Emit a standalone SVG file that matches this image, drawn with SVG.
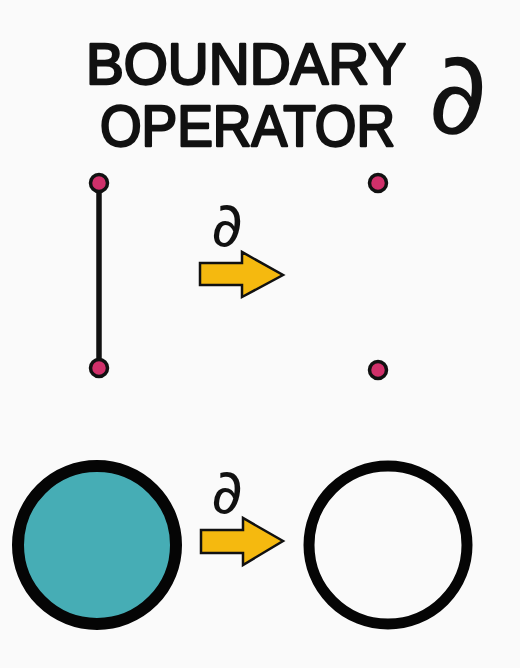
<svg xmlns="http://www.w3.org/2000/svg" width="520" height="668" viewBox="0 0 520 668">
<style>
.title{font-family:"Liberation Sans","DejaVu Sans",sans-serif;font-size:58px;fill:#111;stroke:#111;stroke-width:2.5;stroke-linejoin:round}
.del{font-family:"DejaVu Sans","Liberation Serif",serif;fill:#111}
.dot{fill:#d0306a;stroke:#111;stroke-width:3.5}
.arrow{fill:#f5b90f;stroke:#111;stroke-width:2.5;stroke-linejoin:miter}
</style>
<rect width="520" height="668" fill="#fafafa"/>
<g id="title">
<text class="title" x="86" y="84" textLength="320" lengthAdjust="spacingAndGlyphs">BOUNDARY</text>
<text class="title" x="100" y="146" textLength="295" lengthAdjust="spacingAndGlyphs">OPERATOR</text>
<text class="del" x="428" y="133" font-size="115">∂</text>
</g>
<g id="segment">
<line x1="99" y1="183" x2="99" y2="368" stroke="#111" stroke-width="5.5"/>
<circle class="dot" cx="99" cy="183" r="8.5"/>
<circle class="dot" cx="99" cy="368" r="8.5"/>
</g>
<g id="endpoints">
<circle class="dot" cx="378" cy="183" r="8.5"/>
<circle class="dot" cx="378" cy="370" r="8.5"/>
</g>
<g id="disk">
<circle cx="97" cy="545" r="79" fill="#46adb5" stroke="#050505" stroke-width="12"/>
</g>
<g id="circle">
<circle cx="388" cy="545" r="79" fill="#fafafa" stroke="#050505" stroke-width="11"/>
</g>
<g id="connectors">
<path class="arrow" d="M200 263 H242 V252 L283 275 L242 297 V285 H200 Z"/>
<text class="del" x="211" y="246" font-size="62">∂</text>
<path class="arrow" d="M201 530 H243 V518 L283 541 L243 565 V553 H201 Z"/>
<text class="del" x="211" y="513" font-size="62">∂</text>
</g>
</svg>
